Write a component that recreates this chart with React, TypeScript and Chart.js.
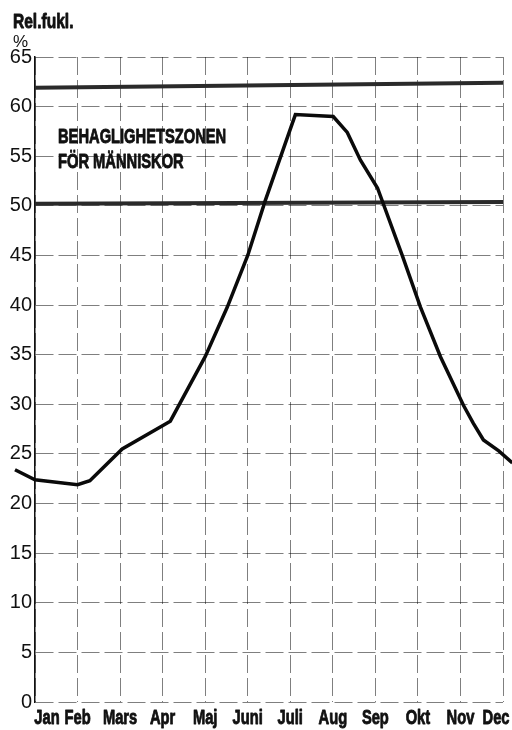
import React, { useEffect, useRef } from 'react';
import { Chart, registerables } from 'chart.js';

Chart.register(...registerables);

const FONT = "'Liberation Sans', Arial, sans-serif";

// Data (x = month index, 0 = Jan ... 11 = Dec)
const months = ['Jan', 'Feb', 'Mars', 'Apr', 'Maj', 'Juni', 'Juli', 'Aug', 'Sep', 'Okt', 'Nov', 'Dec'];
const yTicks = [0, 5, 10, 15, 20, 25, 30, 35, 40, 45, 50, 55, 60, 65];
const curveX = [-0.47, 0, 1.0, 1.29, 2.05, 3.18, 4.0, 4.52, 5.0, 5.41, 6.12, 7.01, 7.34, 7.65, 8.05, 8.64, 9.06, 9.53, 10.07, 10.3, 10.54, 10.9, 11.22];
const curveY = [23.4, 22.4, 21.9, 22.3, 25.5, 28.3, 34.8, 39.8, 45.0, 50.5, 59.2, 59.0, 57.4, 54.6, 51.8, 44.9, 39.8, 34.8, 29.9, 28.1, 26.4, 25.3, 24.1];
const zoneX = [0, 11];
const upperZone = [61.9, 62.4];
const lowerZone = [50.2, 50.4];
const zoneLabel = ['BEHAGLIGHETSZONEN', 'FÖR MÄNNISKOR'];
const zoneLabelAt = { x: 0.54, y1: 56.35, y2: 53.8 };
const axisTitle = ['Rel.fukl.', '%'];

function condensedText(ctx: any, text: string, x: number, y: number, font: string, sx: number, align: string, heavy: boolean) {
  ctx.save();
  ctx.translate(x, y);
  ctx.scale(sx, 1);
  ctx.font = font;
  ctx.textAlign = align;
  ctx.textBaseline = 'alphabetic';
  ctx.fillText(text, 0, 0);
  if (heavy) {
    ctx.lineWidth = 0.9;
    ctx.lineJoin = 'round';
    ctx.strokeText(text, 0, 0);
  }
  ctx.restore();
}

const textPlugin = {
  id: 'chartTexts',
  afterDraw(chart: any) {
    const { ctx, scales } = chart;
    const x = scales.x;
    const y = scales.y;
    ctx.save();
    ctx.fillStyle = '#111';
    ctx.strokeStyle = '#111';
    // axis title
    condensedText(ctx, axisTitle[0], 13, 28, `bold 21px ${FONT}`, 0.74, 'left', true);
    condensedText(ctx, axisTitle[1], 13, 47, `17px ${FONT}`, 1, 'left', false);
    // zone label
    const lx = x.getPixelForValue(zoneLabelAt.x);
    condensedText(ctx, zoneLabel[0], lx, y.getPixelForValue(zoneLabelAt.y1), `bold 21px ${FONT}`, 0.7, 'left', true);
    condensedText(ctx, zoneLabel[1], lx, y.getPixelForValue(zoneLabelAt.y2), `bold 21px ${FONT}`, 0.7, 'left', true);
    // month labels on the x axis
    months.forEach((m, i) => {
      let px = x.getPixelForValue(i);
      if (i === 0) px += 12;
      if (i === 11) px -= 7;
      condensedText(ctx, m, px, 724, `bold 21px ${FONT}`, 0.7, 'center', true);
    });
    ctx.restore();
  },
};

export default function App() {
  const ref = useRef<HTMLCanvasElement>(null);

  useEffect(() => {
    document.body.style.margin = '0';
    const canvas = ref.current;
    if (!canvas) return;
    const chart = new Chart(canvas, {
      type: 'line',
      data: {
        datasets: [
          {
            data: curveX.map((v, i) => ({ x: v, y: curveY[i] })),
            borderColor: '#0a0a0a',
            borderWidth: 3.5,
            pointRadius: 0,
            tension: 0,
            clip: false as any,
          },
          {
            data: zoneX.map((v, i) => ({ x: v, y: upperZone[i] })),
            borderColor: '#2a2a2a',
            borderWidth: 4,
            pointRadius: 0,
          },
          {
            data: zoneX.map((v, i) => ({ x: v, y: lowerZone[i] })),
            borderColor: '#2a2a2a',
            borderWidth: 4,
            pointRadius: 0,
          },
        ],
      },
      options: {
        responsive: false,
        animation: false,
        layout: { padding: { top: 57, right: 9, left: 0, bottom: 0 } },
        plugins: { legend: { display: false }, tooltip: { enabled: false } },
        scales: {
          x: {
            type: 'linear',
            min: 0,
            max: 11,
            offset: false,
            afterBuildTicks: (s: any) => {
              s.ticks = months.map((_, i) => ({ value: i }));
            },
            afterFit: (s: any) => {
              s.height = 28;
              s.paddingLeft = 0;
              s.paddingRight = 0;
            },
            ticks: { display: false, autoSkip: false, maxRotation: 0 },
            grid: { color: 'rgba(0,0,0,0.5)', lineWidth: 1, drawTicks: false },
            border: { display: false, dash: [18, 5] },
          },
          y: {
            type: 'linear',
            min: 0,
            max: 65,
            afterBuildTicks: (s: any) => {
              s.ticks = yTicks.map((v) => ({ value: v }));
            },
            afterFit: (s: any) => {
              s.width = 35;
              s.paddingTop = 0;
              s.paddingBottom = 0;
            },
            ticks: {
              padding: 3,
              color: '#111',
              font: { family: FONT, size: 20 },
            },
            grid: { color: 'rgba(0,0,0,0.5)', lineWidth: 1, drawTicks: false },
            border: { display: true, color: '#111', width: 1.5, dash: [18, 5] },
          },
        },
      },
      plugins: [textPlugin],
    } as any);
    return () => chart.destroy();
  }, []);

  return (
    <div style={{ width: 512, height: 730 }}>
      <canvas ref={ref} width={512} height={730} />
    </div>
  );
}
